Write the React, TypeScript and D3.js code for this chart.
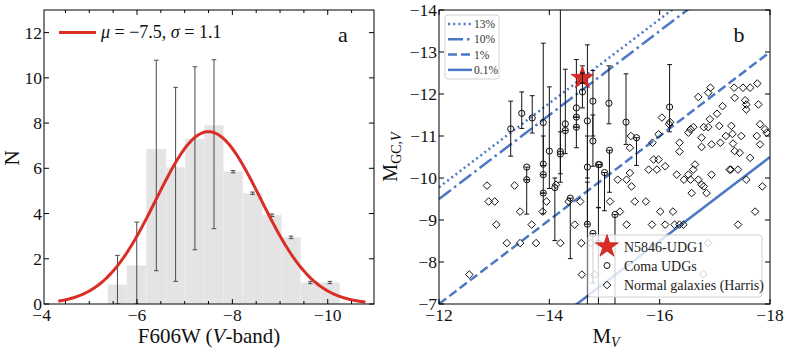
import * as d3 from "d3";

// panel a: histogram of GC magnitudes
const binEdges = [-5.39, -5.79, -6.2, -6.61, -7.01, -7.42, -7.81, -8.22, -8.63, -9.03, -9.43, -9.84, -10.25];
const binCounts = [0.85, 1.7, 6.85, 6.05, 7.3, 7.9, 5.85, 4.9, 3.93, 2.95, 0.95, 0.95];
const errLow = [0, 0, 1.47, 1.0, 2.4, 3.33, 5.8, 4.85, 3.87, 2.89, 0.9, 0.9];
const errHigh = [2.15, 3.62, 10.78, 9.58, 10.49, 10.8, 5.9, 4.95, 3.98, 3.0, 1.0, 1.0];
const fitMu = -7.5;
const fitSigma = 1.1;
const fitAmp = 7.62;
const fitRange = [-4.35, -10.8];
const xTicksA = [-4, -6, -8, -10];
const xMinorA = [-4.5, -5, -5.5, -6.5, -7, -7.5, -8.5, -9, -9.5, -10.5];
const yTicksA = [0, 2, 4, 6, 8, 10, 12];

// panel b: GC luminosity vs host luminosity
const fracLabels = ["13%", "10%", "1%", "0.1%"];
const fracOffsets = [2.22, 2.5, 5.0, 7.5];
const fracDash = ["2,3.2", "15,4,2.5,4", "9,4", ""];

// Coma UDGs: [M_V, M_GC, bright end, faint end]
const comaUdgs = [
  [-13.3, -11.17, -11.83, -10.52],
  [-13.5, -11.54, -12.05, -11.18],
  [-13.69, -11.43, -11.96, -11.07],
  [-13.59, -10.26, -10.26, -9.14],
  [-13.59, -9.96, -9.96, -9.96],
  [-13.89, -11.32, -13.21, -10.3],
  [-13.89, -10.33, -11.0, -9.64],
  [-13.89, -10.08, -10.08, -10.08],
  [-13.89, -9.64, -9.64, -9.15],
  [-14.0, -10.64, -12.17, -9.75],
  [-14.1, -9.77, -10.0, -8.51],
  [-14.2, -10.63, -14.3, -9.9],
  [-14.2, -10.57, -11.1, -10.1],
  [-14.29, -11.29, -12.59, -10.58],
  [-14.29, -11.13, -11.13, -11.13],
  [-14.38, -9.52, -9.52, -8.08],
  [-14.49, -11.67, -12.82, -10.72],
  [-14.49, -11.45, -11.45, -11.45],
  [-14.49, -11.21, -11.21, -11.21],
  [-14.6, -12.05, -12.67, -11.67],
  [-14.69, -11.36, -13.17, -10.0],
  [-14.69, -10.26, -11.0, -8.9],
  [-14.69, -8.9, -9.9, -6.9],
  [-14.79, -11.83, -12.56, -11.0],
  [-14.79, -10.88, -11.5, -10.28],
  [-14.79, -8.68, -8.68, -7.5],
  [-14.89, -10.32, -10.32, -9.29],
  [-14.91, -10.32, -10.32, -10.32],
  [-14.89, -8.45, -9.3, -6.9],
  [-15.0, -10.13, -10.13, -9.22],
  [-15.08, -11.78, -12.67, -11.29],
  [-15.09, -10.66, -10.66, -9.66],
  [-15.19, -9.13, -9.13, -6.9],
  [-15.39, -11.33, -12.48, -10.8],
  [-15.58, -10.96, -10.96, -10.3],
  [-16.18, -11.69, -12.7, -11.1],
];

const normalMV = [
  -12.55, -12.87, -12.9, -13.01, -13.04, -13.23, -13.37, -13.47, -13.47, -13.68, -13.76, -13.88, -13.95,
  -14.12, -14.2, -14.35, -14.46, -14.56, -14.58, -14.59, -14.75, -14.82, -16.88, -16.79,
  -15.1, -15.28, -15.4, -15.49, -15.4, -15.46, -15.55, -15.75, -15.8, -15.86, -15.95, -16.01, -16.1,
  -16.1, -16.24, -16.27, -16.31, -16.36, -16.43, -16.44, -16.52, -16.56, -16.58, -16.61, -16.64,
  -16.7, -16.76, -16.8, -16.85, -16.94, -17.27, -17.29, -17.42, -17.42, -17.57, -17.64, -17.73, -17.86,
  -16.04, -15.48, -15.46, -15.87, -15.89, -15.98, -15.98, -16.17, -16.36, -16.36, -16.52, -16.56,
  -16.61, -16.7, -16.76, -16.76, -16.8, -16.88, -16.88, -16.92, -16.91, -16.94, -17.08, -17.1, -17.04,
  -17.14, -17.2, -17.3, -17.32, -17.33, -17.35, -17.36, -17.36, -17.45, -17.48, -17.51, -17.55, -17.57,
  -17.57, -17.64, -17.77, -17.79, -17.76, -17.82, -17.82, -17.91, -17.94, -16.19, -15.24,
];
const normalMGC = [
  -7.7, -9.82, -9.44, -9.44, -8.89, -8.45, -9.82, -9.2, -8.45, -8.89, -8.45, -9.2, -9.44,
  -9.84, -8.45, -9.44, -8.89, -9.44, -8.45, -7.7, -8.45, -7.7, -8.45, -7.71,
  -9.44, -9.2, -8.89, -9.8, -9.96, -10.12, -9.44, -9.44, -10.2, -8.89, -10.2, -9.2, -10.28,
  -8.89, -9.2, -8.89, -10.08, -8.89, -8.89, -9.96, -10.08, -9.96, -9.64, -10.2, -10.32,
  -9.96, -9.84, -9.8, -9.64, -10.08, -10.2, -10.2, -10.2, -8.89, -9.96, -10.48, -9.2, -9.8,
  -11.44, -11.0, -10.72, -10.84, -10.44, -10.44, -11.04, -11.28, -10.84, -10.63, -11.08, -11.16,
  -11.21, -11.93, -10.96, -10.74, -11.21, -12.03, -11.21, -12.15, -11.4, -10.8, -11.24, -10.84, -11.53,
  -11.71, -11.0, -11.24, -11.05, -10.82, -12.15, -11.91, -10.64, -10.6, -11.0, -12.15, -11.85, -11.75,
  -11.63, -12.15, -12.25, -11.75, -11.0, -11.28, -10.8, -11.16, -11.08, -11.33, -9.96,
];

const udg1 = [-14.6, -12.38, -12.5, -12.26];
const xTicksB = [-12, -14, -16, -18];
const yTicksB = [-7, -8, -9, -10, -11, -12, -13, -14];

const FONT = "'Liberation Serif', 'DejaVu Serif', serif";
const BLUE = "#4a78c2";
const RED = "#d92e26";

const fmt = (v: number) => (v < 0 ? "\u2212" + Math.abs(v) : String(v));

function Frame({ x, y, xTicks, yTicks, xMinor }: any) {
  const [x0, x1] = x.range();
  const [y0, y1] = y.range();
  return (
    <g stroke="#000" strokeWidth={1}>
      <rect x={x0} y={y1} width={x1 - x0} height={y0 - y1} fill="none" />
      {xTicks.filter((t: number) => x(t) >= x0 && x(t) <= x1).map((t: number) => (
        <g key={"x" + t}>
          <line x1={x(t)} x2={x(t)} y1={y0} y2={y0 - 5} />
          <line x1={x(t)} x2={x(t)} y1={y1} y2={y1 + 5} />
        </g>
      ))}
      {(xMinor || []).map((t: number) => (
        <g key={"m" + t}>
          <line x1={x(t)} x2={x(t)} y1={y0} y2={y0 - 3} />
          <line x1={x(t)} x2={x(t)} y1={y1} y2={y1 + 3} />
        </g>
      ))}
      {yTicks.map((t: number) => (
        <g key={"y" + t}>
          <line x1={x0} x2={x0 + 5} y1={y(t)} y2={y(t)} />
          <line x1={x1} x2={x1 - 5} y1={y(t)} y2={y(t)} />
        </g>
      ))}
      <g stroke="none" fill="#111" fontFamily={FONT} fontSize={17.5}>
        {xTicks.map((t: number) => (
          <text key={"xl" + t} x={x(t)} y={y0 + 16.5} textAnchor="middle">{fmt(t)}</text>
        ))}
        {yTicks.map((t: number) => (
          <text key={"yl" + t} x={x0 - 2} y={y(t) + 6} textAnchor="end">{fmt(t)}</text>
        ))}
      </g>
    </g>
  );
}

function ErrBar({ x, y1, y2, cap, color }: any) {
  return (
    <g stroke={color} strokeWidth={1}>
      <line x1={x} x2={x} y1={y1} y2={y2} />
      <line x1={x - cap} x2={x + cap} y1={y1} y2={y1} />
      <line x1={x - cap} x2={x + cap} y1={y2} y2={y2} />
    </g>
  );
}

const diamond = (cx: number, cy: number, r: number) =>
  `M${cx},${cy - r}L${cx + r},${cy}L${cx},${cy + r}L${cx - r},${cy}Z`;

export default function App() {
  // panel a scales
  const xA = d3.scaleLinear().domain([-4.05, -10.97]).range([44, 374]);
  const yA = d3.scaleLinear().domain([0, 13]).range([304, 10]);
  // panel b scales
  const xB = d3.scaleLinear().domain([-12, -18]).range([439, 770]);
  const yB = d3.scaleLinear().domain([-7, -14]).range([304, 10]);

  const fitX = d3.range(fitRange[0], fitRange[1] - 0.001, -0.02);
  const fitLine = d3
    .line<number>()
    .x((d) => xA(d))
    .y((d) => yA(fitAmp * Math.exp(-((d - fitMu) ** 2) / (2 * fitSigma ** 2))));

  const star = d3.symbol(d3.symbolStar, 160)();

  return (
    <svg width={789} height={351} style={{ position: "absolute", left: 0, top: 0, background: "#fff" }}>
      <defs>
        <clipPath id="clipB">
          <rect x={439} y={10} width={331} height={294} />
        </clipPath>
        <clipPath id="clipA">
          <rect x={44} y={10} width={330} height={294} />
        </clipPath>
      </defs>

      {/* ---------- panel a ---------- */}
      <g clipPath="url(#clipA)">
        {binCounts.map((c, i) => (
          <rect
            key={i}
            x={xA(binEdges[i])}
            width={xA(binEdges[i + 1]) - xA(binEdges[i])}
            y={yA(c)}
            height={yA(0) - yA(c)}
            fill="#e4e4e4"
            stroke="#ededed"
            strokeWidth={0.6}
          />
        ))}
        {binCounts.map((c, i) => (
          <ErrBar
            key={"e" + i}
            x={xA((binEdges[i] + binEdges[i + 1]) / 2)}
            y1={yA(errHigh[i])}
            y2={yA(errLow[i])}
            cap={2.3}
            color="#4a4a4a"
          />
        ))}
        <path d={fitLine(fitX) || ""} fill="none" stroke={RED} strokeWidth={3} />
      </g>
      <Frame x={xA} y={yA} xTicks={xTicksA} yTicks={yTicksA} xMinor={xMinorA} />
      <line x1={59} x2={96} y1={32.5} y2={32.5} stroke={RED} strokeWidth={3} />
      <text x={101} y={38} fontFamily={FONT} fontSize={18} fill="#111">
        <tspan fontStyle="italic">μ</tspan> = −7.5, <tspan fontStyle="italic">σ</tspan> = 1.1
      </text>
      <text x={343} y={42} fontFamily={FONT} fontSize={22} fill="#111" textAnchor="middle">a</text>
      <text x={209} y={343} fontFamily={FONT} fontSize={21} fill="#111" textAnchor="middle">
        F606W (<tspan fontStyle="italic">V</tspan>-band)
      </text>
      <text transform="translate(19,158) rotate(-90)" fontFamily={FONT} fontSize={21} fill="#111" textAnchor="middle">N</text>

      {/* ---------- panel b ---------- */}
      <g clipPath="url(#clipB)">
        {fracOffsets.map((o, i) => (
          <line
            key={"f" + i}
            x1={xB(-12)}
            y1={yB(-12 + o)}
            x2={xB(-18)}
            y2={yB(-18 + o)}
            stroke={BLUE}
            strokeWidth={2.5}
            strokeDasharray={fracDash[i]}
          />
        ))}
        {comaUdgs.map((d, i) => (
          <ErrBar key={"c" + i} x={xB(d[0])} y1={yB(d[2])} y2={yB(d[3])} cap={2.4} color="#111" />
        ))}
        {comaUdgs.map((d, i) => (
          <circle key={"cc" + i} cx={xB(d[0])} cy={yB(d[1])} r={3.1} fill="none" stroke="#111" strokeWidth={1} />
        ))}
        {normalMV.map((v, i) => (
          <path key={"n" + i} d={diamond(xB(v), yB(normalMGC[i]), 3.8)} fill="none" stroke="#111" strokeWidth={1} />
        ))}
        <path d={star || ""} transform={`translate(${xB(udg1[0])},${yB(udg1[1])})`} fill={RED} stroke="#c0221c" strokeWidth={0.8} />
        <ErrBar x={xB(udg1[0])} y1={yB(udg1[3])} y2={yB(udg1[2])} cap={2.4} color="#000" />
      </g>
      <Frame x={xB} y={yB} xTicks={xTicksB} yTicks={yTicksB} />

      {/* line legend */}
      <rect x={445} y={15} width={54} height={64} rx={3} fill="#fff" fillOpacity={0.85} stroke="#d0d0d0" />
      {fracLabels.map((l, i) => {
        const yy = 24 + i * 15.3;
        return (
          <g key={"lg" + i}>
            <line x1={448} x2={472} y1={yy} y2={yy} stroke={BLUE} strokeWidth={2.5} strokeDasharray={fracDash[i]} />
            <text x={474} y={yy + 4} fontFamily={FONT} fontSize={11.5} fill="#333">{l}</text>
          </g>
        );
      })}

      {/* marker legend */}
      <rect x={588} y={235} width={174} height={62} rx={3} fill="#fff" fillOpacity={0.8} stroke="#d0d0d0" />
      <path d={star || ""} transform="translate(607,246.5)" fill={RED} stroke="#c0221c" strokeWidth={0.8} />
      <circle cx={607} cy={265.5} r={3} fill="none" stroke="#111" />
      <path d={diamond(607, 285, 3.8)} fill="none" stroke="#111" />
      <g fontFamily={FONT} fontSize={14} fill="#222">
        <text x={624} y={251.5}>N5846-UDG1</text>
        <text x={624} y={270.5}>Coma UDGs</text>
        <text x={624} y={290}>Normal galaxies (Harris)</text>
      </g>

      <text x={739} y={42} fontFamily={FONT} fontSize={22} fill="#111" textAnchor="middle">b</text>
      <text x={606} y={343} fontFamily={FONT} fontSize={21} fill="#111" textAnchor="middle">
        M<tspan fontSize={14} dy={4} fontStyle="italic">V</tspan>
      </text>
      <text transform="translate(397,157) rotate(-90)" fontFamily={FONT} fontSize={20} fill="#111" textAnchor="middle">
        M<tspan fontSize={14} dy={4}>GC,<tspan fontStyle="italic">V</tspan></tspan>
      </text>
    </svg>
  );
}
